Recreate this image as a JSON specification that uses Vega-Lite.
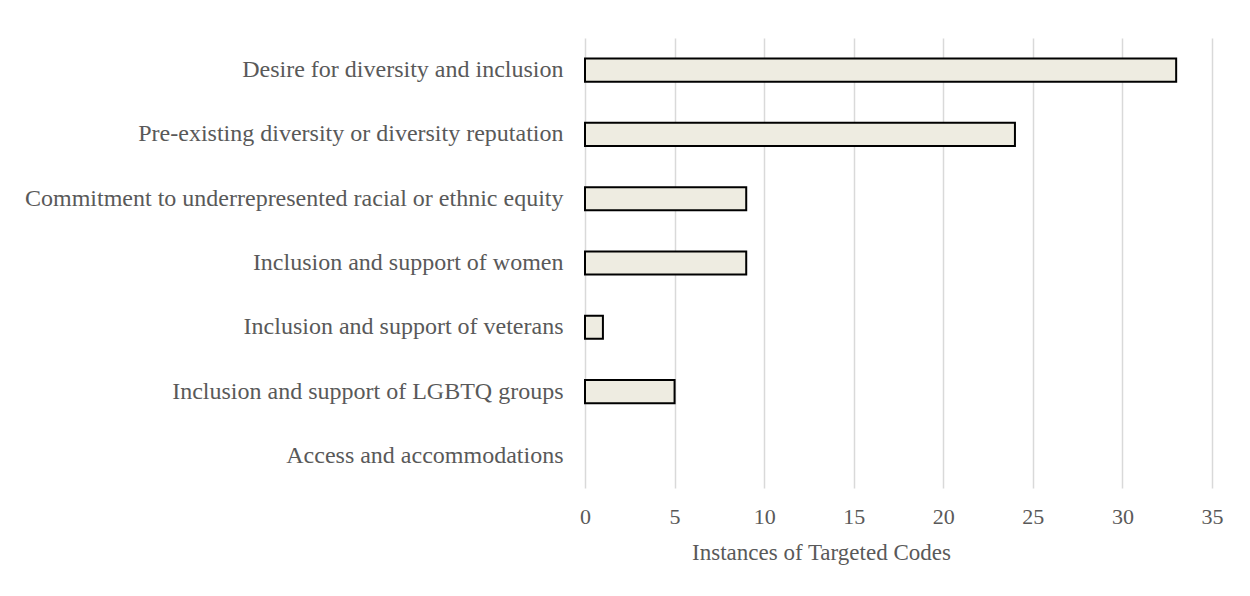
{
  "$schema": "https://vega.github.io/schema/vega-lite/v6.json",
  "autosize": {"type": "none"},
  "padding": {"left": 585, "top": 38, "right": 38, "bottom": 108},
  "width": 627,
  "height": 450,
  "background": "white",
  "config": {
    "view": {"stroke": null},
    "font": "Liberation Serif"
  },
  "data": {
    "values": [
      {"category": "Desire for diversity and inclusion", "count": 33},
      {"category": "Pre-existing diversity or diversity reputation", "count": 24},
      {"category": "Commitment to underrepresented racial or ethnic equity", "count": 9},
      {"category": "Inclusion and support of women", "count": 9},
      {"category": "Inclusion and support of veterans", "count": 1},
      {"category": "Inclusion and support of LGBTQ groups", "count": 5},
      {"category": "Access and accommodations", "count": 0}
    ]
  },
  "mark": {"type": "bar", "fill": "#EEECE1", "stroke": "#000000", "strokeWidth": 2},
  "encoding": {
    "strokeOpacity": {"condition": {"test": "datum.count > 0", "value": 1}, "value": 0},
    "y": {
      "field": "category",
      "type": "nominal",
      "sort": null,
      "scale": {"paddingInner": 0.64, "paddingOuter": 0.32},
      "axis": {
        "title": null,
        "domain": false,
        "ticks": false,
        "labelPadding": 22,
        "labelFontSize": 24,
        "labelColor": "#595959",
        "labelFont": "Liberation Serif",
        "labelLimit": 700
      }
    },
    "x": {
      "field": "count",
      "type": "quantitative",
      "scale": {"domain": [0, 35], "nice": false},
      "axis": {
        "title": "Instances of Targeted Codes",
        "values": [0, 5, 10, 15, 20, 25, 30, 35],
        "domain": false,
        "ticks": false,
        "grid": true,
        "gridColor": "#D9D9D9",
        "gridWidth": 1.5,
        "labelFlush": false,
        "labelPadding": 18,
        "labelFontSize": 22,
        "labelColor": "#595959",
        "labelFont": "Liberation Serif",
        "titleFont": "Liberation Serif",
        "titleFontSize": 23,
        "titleFontWeight": "normal",
        "titleColor": "#595959",
        "titleX": 236,
        "titleAlign": "center",
        "titlePadding": 14
      }
    }
  }
}
